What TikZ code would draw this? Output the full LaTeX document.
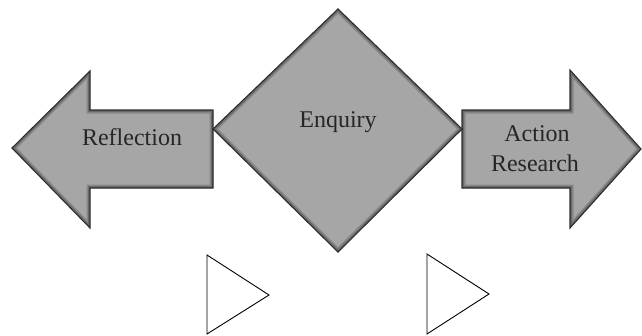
\documentclass[tikz,border=0pt]{standalone}
\usepackage{fontspec}
\setmainfont{Liberation Serif}
\definecolor{shapefill}{RGB}{166,166,166}
\definecolor{shapeedge}{RGB}{45,45,45}
\newcommand{\bevelshape}[1]{%
  \begin{scope}
    \clip #1;
    \fill[shapefill] #1;
    \draw[black, opacity=0.18, line width=7pt, line join=miter] #1;
    \draw[black, opacity=0.22, line width=4pt, line join=miter] #1;
  \end{scope}
  \draw[shapeedge, line width=1.1pt, line join=miter] #1;
}
\tikzset{
  label/.style={font=\fontsize{24}{30}\selectfont, text=black!85, inner sep=0pt, anchor=base},
  marker/.style={draw=black, line width=0.9pt, line join=miter, fill=white}
}
\begin{document}
\begin{tikzpicture}[x=1pt,y=-1pt]
  \useasboundingbox (0,0) rectangle (642,335);
  % left arrow
  \bevelshape{(12,148) -- (90,71) -- (90,110) -- (213,110) -- (213,188) -- (90,188) -- (90,228) -- cycle}
  % right arrow
  \bevelshape{(462,110) -- (570,110) -- (570,70) -- (641,149) -- (570,228) -- (570,188) -- (462,188) -- cycle}
  % diamond
  \bevelshape{(338,9) -- (462,129) -- (338,252) -- (213,129) -- cycle}
  % labels
  \node[label] (refl) at (132,145) {Reflection};
  \node[label] (enq) at (338,127) {Enquiry};
  \node[label] (act) at (537,141) {Action};
  \node[label] (res) at (535,171) {Research};
  % small outlined triangles
  \draw[marker] (207,255) -- (269,295) -- (207,334) -- cycle;
  \draw[marker] (427,254) -- (489,294) -- (427,334) -- cycle;
\end{tikzpicture}
\end{document}
